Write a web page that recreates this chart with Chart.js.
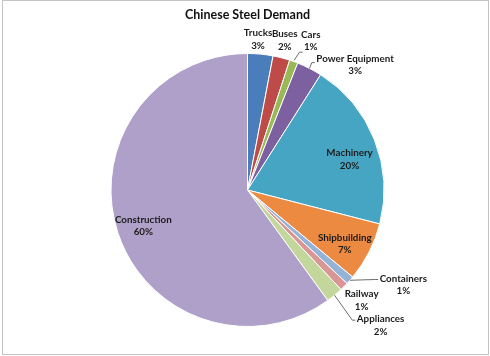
<!DOCTYPE html>
<html>
<head>
<meta charset="utf-8">
<script src="https://cdn.jsdelivr.net/npm/chart.js@4/dist/chart.umd.min.js"></script>
<style>
  html, body { margin: 0; padding: 0; background: #ffffff; }
  #wrap { width: 490px; height: 356px; }
</style>
</head>
<body>
<div id="wrap"><canvas id="c" width="490" height="356"></canvas></div>
<script>
const chartTitle = 'Chinese Steel Demand';
const categories = ['Trucks', 'Buses', 'Cars', 'Power Equipment', 'Machinery', 'Shipbuilding', 'Containers', 'Railway', 'Appliances', 'Construction'];
const shares = [3, 2, 1, 3, 20, 7, 1, 1, 2, 60];
const shareLabels = ['3%', '2%', '1%', '3%', '20%', '7%', '1%', '1%', '2%', '60%'];

const sliceColors = ['#4a7ebb', '#be4b48', '#98b954', '#7d60a0', '#46a5c2', '#eb8a40', '#95b3d7', '#d99694', '#c3d69b', '#aea0c8'];

const labelFont = 'bold 9.8px Lato, "Liberation Sans", sans-serif';

const pieLabels = {
  id: 'pieLabels',
  beforeDraw(chart) {
    const ctx = chart.ctx;
    ctx.save();
    ctx.fillStyle = '#ffffff';
    ctx.fillRect(0, 0, chart.width, chart.height);
    ctx.strokeStyle = '#c4c4c4';
    ctx.lineWidth = 1;
    ctx.strokeRect(2.5, 0.5, chart.width - 4, chart.height - 2);
    ctx.restore();
  },
  afterDatasetsDraw(chart, args, opts) {
    const ctx = chart.ctx;
    const meta = chart.getDatasetMeta(0);
    ctx.save();
    ctx.font = labelFont;
    ctx.fillStyle = '#1c1c1c';
    ctx.textAlign = 'center';
    ctx.textBaseline = 'middle';
    meta.data.forEach((arc, i) => {
      const p = arc.getProps(['x', 'y', 'outerRadius', 'startAngle', 'endAngle'], true);
      const mid = (p.startAngle + p.endAngle) / 2;
      const pl = opts.place[i];
      const a = mid + pl[0] * Math.PI / 180;
      const lx = p.x + Math.cos(a) * p.outerRadius * pl[1];
      const ly = p.y + Math.sin(a) * p.outerRadius * pl[1];
      const lines = [categories[i], shareLabels[i]];
      const gap = 12.5;
      const ys = [ly - gap / 2, ly + gap / 2];
      lines.forEach((t, k) => ctx.fillText(t, lx, ys[k]));
      const ld = opts.leaders[i];
      if (ld) {
        const sr = p.outerRadius * ld[1];
        const sx = p.x + Math.cos(mid) * sr;
        const sy = p.y + Math.sin(mid) * sr;
        const w = ctx.measureText(lines[ld[0]]).width;
        const ex = lx - w / 2 - 1.5;
        const ey = ys[ld[0]] + ld[2];
        ctx.beginPath();
        ctx.strokeStyle = '#6e6e6e';
        ctx.lineWidth = 1;
        ctx.moveTo(sx, sy);
        ctx.lineTo(ex - 3, ey);
        ctx.lineTo(ex, ey);
        ctx.stroke();
      }
    });
    ctx.restore();
  }
};

new Chart(document.getElementById('c'), {
  type: 'pie',
  data: {
    labels: categories,
    datasets: [{
      data: shares,
      backgroundColor: sliceColors,
      borderColor: '#ffffff',
      borderWidth: 1
    }]
  },
  options: {
    responsive: false,
    animation: false,
    devicePixelRatio: 1,
    layout: { padding: { left: 12, right: 7, top: 0, bottom: 29 } },
    plugins: {
      legend: { display: false },
      tooltip: { enabled: false },
      title: {
        display: true,
        text: chartTitle,
        color: '#111111',
        font: { family: 'Lato, "Liberation Sans", sans-serif', size: 12.5, weight: 'bold' },
        padding: { top: 7, bottom: 31 }
      },
      pieLabels: {
        place: [[-1.4, 1.105], [-0.4, 1.129], [3.2, 1.186], [13.7, 1.209], [4.8, 0.781], [1.9, 0.814], [-10.1, 1.336], [-0.9, 1.164], [-4.9, 1.391], [-1, 0.807]],
        leaders: [null, null, [1, 1.01, 5], [0, 1.0, 4], null, null, [0, 1.0, 1], null, [0, 1.0, 1], null]
      }
    }
  },
  plugins: [pieLabels]
});
</script>
</body>
</html>
